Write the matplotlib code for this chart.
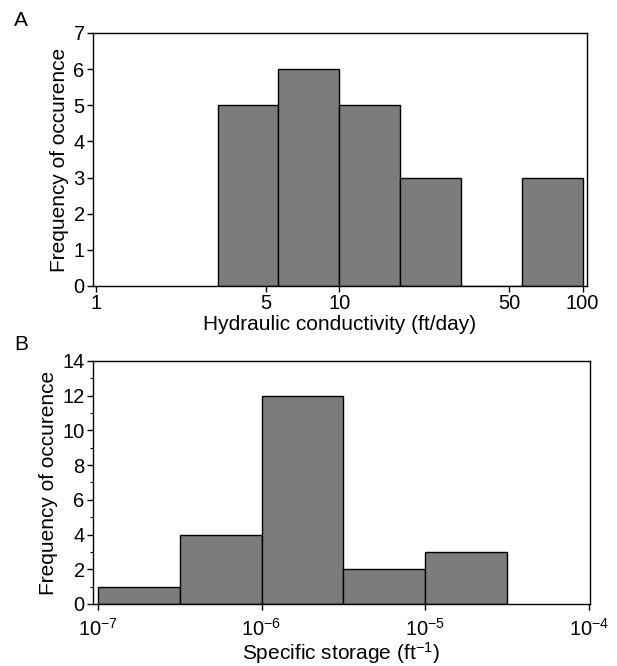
import numpy as np
import matplotlib
matplotlib.use('Agg')
import matplotlib.pyplot as plt
from matplotlib.ticker import FixedLocator, FixedFormatter, MultipleLocator, NullLocator

plt.rcParams['font.family'] = ['Liberation Sans', 'DejaVu Sans']
plt.rcParams['mathtext.fontset'] = 'custom'
plt.rcParams['mathtext.rm'] = 'Liberation Sans'
plt.rcParams['mathtext.it'] = 'Liberation Sans:italic'

# panel A: hydraulic conductivity, bins 0.25 decade wide
k_edges_log = [0.5, 0.75, 1.0, 1.25, 1.5, 1.75, 2.0]
k_counts = [5, 6, 5, 3, 0, 3]
k_ticks = [1, 5, 10, 50, 100]
k_ticklabels = ['1', '5', '10', '50', '100']

# panel B: specific storage, bins 0.5 decade wide
s_edges_log = [-7.0, -6.5, -6.0, -5.5, -5.0, -4.5]
s_counts = [1, 4, 12, 2, 3]
s_ticks = [1e-7, 1e-6, 1e-5, 1e-4]

bar_color = '#7c7c7c'
fs = 15
ts = 14.5

fig = plt.figure(figsize=(6.17, 6.66), dpi=100)
ax1 = fig.add_axes([0.1507, 0.5706, 0.800, 0.380])
ax2 = fig.add_axes([0.1507, 0.0931, 0.805, 0.365])

k_edges = 10 ** np.array(k_edges_log)
ax1.bar(k_edges[:-1], k_counts, width=np.diff(k_edges), align='edge',
        color=bar_color, edgecolor='black', linewidth=1.0)
ax1.set_xscale('log')
ax1.set_xlim(0.972, 103.8)
ax1.set_ylim(0, 7)
ax1.xaxis.set_major_locator(FixedLocator(k_ticks))
ax1.xaxis.set_major_formatter(FixedFormatter(k_ticklabels))
ax1.xaxis.set_minor_locator(NullLocator())
ax1.yaxis.set_major_locator(MultipleLocator(1))
ax1.set_xlabel('Hydraulic conductivity (ft/day)', fontsize=fs, labelpad=1)
ax1.set_ylabel('Frequency of occurence', fontsize=fs, labelpad=3)

s_edges = 10 ** np.array(s_edges_log)
ax2.bar(s_edges[:-1], s_counts, width=np.diff(s_edges), align='edge',
        color=bar_color, edgecolor='black', linewidth=1.0)
ax2.set_xscale('log')
ax2.set_xlim(1e-7 * 10 ** (-5 / 164), 1e-4 * 10 ** (1 / 164))
ax2.set_ylim(0, 14)
ax2.xaxis.set_major_locator(FixedLocator(s_ticks))
ax2.xaxis.set_minor_locator(NullLocator())
ax2.yaxis.set_major_locator(MultipleLocator(2))
ax2.yaxis.set_minor_locator(MultipleLocator(1))
ax2.set_xlabel('Specific storage (ft$^{-1}$)', fontsize=fs, labelpad=0)
ax2.set_ylabel('Frequency of occurence', fontsize=fs, labelpad=3)

for ax in (ax1, ax2):
    ax.tick_params(axis='both', which='major', direction='out', length=4,
                   width=1, labelsize=ts, pad=2)
    ax.tick_params(axis='y', which='minor', direction='out', length=2, width=0.8)
    for sp in ax.spines.values():
        sp.set_linewidth(1.0)
ax2.tick_params(axis='x', which='major', pad=6)

fig.text(14 / 617, 1 - 20 / 666, 'A', fontsize=fs, ha='left', va='center')
fig.text(14 / 617, 1 - 345 / 666, 'B', fontsize=fs, ha='left', va='center')

fig.savefig('out.png', dpi=100)
